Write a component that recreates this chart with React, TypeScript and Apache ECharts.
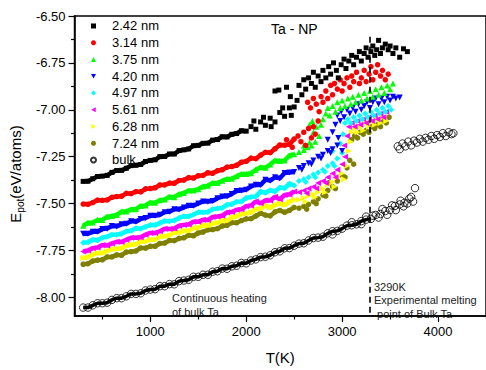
import React, { useEffect, useRef } from 'react';
import * as echarts from 'echarts';

const FONT = "'Liberation Sans', Arial, sans-serif";

// ---- axes ----
const X_MIN = 210;
const X_MAX = 4500;
const Y_MIN = -8.1;
const Y_MAX = -6.5;
const X_LABELS = [1000, 2000, 3000, 4000];
const X_MINOR = [500, 1500, 2500, 3500, 4500];
const Y_LABELS = [-8.0, -7.75, -7.5, -7.25, -7.0, -6.75, -6.5];
const Y_MINOR = [-7.875, -7.625, -7.375, -7.125, -6.875, -6.625];

// ---- legend names ----
const NAMES = ['2.42 nm', '3.14 nm', '3.75 nm', '4.20 nm', '4.97 nm', '5.61 nm', '6.28 nm', '7.24 nm', 'bulk'];

// ---- melting line ----
const MELT_T = 3290;
const MELT_TOP = -6.61;

// ---- temperatures of the dense (solid) part of nanoparticle runs ----
const T_GRID = [300, 350, 400, 450, 500, 550, 600, 650, 700, 750, 800, 850, 900, 950, 1000, 1050, 1100, 1150, 1200, 1250, 1300, 1350, 1400, 1450, 1500, 1550, 1600, 1650, 1700, 1750, 1800, 1850, 1900, 1950, 2000, 2050, 2100, 2150, 2200, 2250, 2300, 2350, 2400, 2450, 2500];

const E_242 = [-7.382, -7.381, -7.368, -7.356, -7.354, -7.350, -7.334, -7.324, -7.323, -7.312, -7.298, -7.296, -7.292, -7.276, -7.270, -7.267, -7.250, -7.249, -7.236, -7.236, -7.218, -7.214, -7.209, -7.192, -7.190, -7.179, -7.178, -7.162, -7.159, -7.144, -7.145, -7.131, -7.127, -7.112, -7.114, -7.090, -7.104, -7.065, -7.083, -7.045, -7.065, -7.015, -7.035, -6.990, -6.985];
const X_242: [number, number][] = [[2080, -7.06], [2180, -7.04], [2260, -7.09], [2300, -6.90], [2340, -6.895], [2380, -6.99], [2420, -6.88], [2460, -6.93], [2470, -7.03], [2530, -6.95], [2550, -6.87], [2580, -6.92], [2600, -6.84], [2620, -6.89], [2650, -6.83], [2680, -6.86], [2700, -6.80], [2720, -6.88], [2750, -6.82], [2780, -6.85], [2800, -6.79], [2830, -6.83], [2860, -6.77], [2880, -6.81], [2910, -6.75], [2940, -6.79], [2960, -6.83], [2990, -6.76], [3020, -6.73], [3040, -6.78], [3070, -6.74], [3100, -6.71], [3120, -6.76], [3150, -6.72], [3180, -6.69], [3200, -6.74], [3230, -6.70], [3250, -6.67], [3270, -6.72], [3300, -6.69], [3320, -6.66], [3340, -6.71], [3360, -6.68], [3380, -6.63], [3400, -6.70], [3420, -6.67], [3450, -6.65], [3480, -6.68], [3500, -6.66], [3530, -6.70], [3560, -6.67], [3600, -6.72], [3640, -6.675], [3680, -6.69]];

const E_314 = [-7.503, -7.504, -7.495, -7.482, -7.483, -7.481, -7.467, -7.463, -7.461, -7.446, -7.447, -7.437, -7.438, -7.422, -7.420, -7.416, -7.401, -7.401, -7.391, -7.392, -7.377, -7.375, -7.362, -7.364, -7.352, -7.350, -7.336, -7.339, -7.325, -7.320, -7.306, -7.303, -7.296, -7.280, -7.275, -7.258, -7.261, -7.242, -7.227, -7.229, -7.208, -7.188, -7.189, -7.185, -7.156];
const X_314: [number, number][] = [[2420, -7.16], [2480, -7.20], [2540, -7.14], [2570, -7.17], [2600, -7.12], [2620, -7.19], [2650, -7.10], [2680, -7.15], [2700, -7.09], [2720, -7.13], [2750, -7.06], [2640, -6.96], [2670, -6.99], [2700, -6.94], [2730, -6.97], [2760, -7.01], [2780, -6.93], [2800, -6.96], [2830, -6.90], [2850, -6.94], [2880, -6.87], [2900, -6.92], [2920, -6.86], [2950, -6.89], [2980, -6.84], [3000, -6.90], [3020, -6.86], [3050, -6.83], [3080, -6.88], [3100, -6.82], [3120, -6.85], [3150, -6.80], [3180, -6.86], [3200, -6.83], [3230, -6.79], [3250, -6.85], [3280, -6.81], [3300, -6.77], [3320, -6.84], [3350, -6.80], [3370, -6.76], [3400, -6.82], [3420, -6.79], [3450, -6.84], [3480, -6.81]];

const E_375 = [-7.619, -7.602, -7.601, -7.588, -7.588, -7.570, -7.566, -7.561, -7.543, -7.542, -7.531, -7.530, -7.513, -7.510, -7.495, -7.496, -7.483, -7.479, -7.464, -7.466, -7.450, -7.444, -7.431, -7.430, -7.424, -7.409, -7.405, -7.390, -7.391, -7.379, -7.369, -7.368, -7.355, -7.343, -7.342, -7.338, -7.320, -7.306, -7.309, -7.292, -7.270, -7.273, -7.271, -7.244, -7.237];
const X_375: [number, number][] = [[2550, -7.225], [2600, -7.215], [2640, -7.20], [2680, -7.19], [2720, -7.17], [2600, -7.19], [2660, -7.175], [2700, -7.12], [2730, -7.09], [2760, -7.14], [2780, -7.08], [2800, -7.05], [2660, -7.08], [2690, -7.06], [2830, -7.02], [2850, -6.99], [2870, -7.03], [2900, -6.98], [2930, -7.01], [2950, -6.96], [2980, -6.99], [3000, -6.95], [3030, -6.98], [3060, -6.94], [3090, -6.97], [3110, -6.93], [3140, -6.96], [3170, -6.92], [3200, -6.95], [3230, -6.91], [3260, -6.94], [3290, -6.90], [3320, -6.93], [3350, -6.89], [3380, -6.92], [3410, -6.88], [3440, -6.91], [3470, -6.87], [3500, -6.89], [3530, -6.86]];

const E_420 = [-7.661, -7.661, -7.651, -7.651, -7.636, -7.634, -7.620, -7.622, -7.611, -7.608, -7.594, -7.597, -7.582, -7.577, -7.565, -7.565, -7.560, -7.546, -7.544, -7.530, -7.532, -7.521, -7.512, -7.512, -7.500, -7.489, -7.490, -7.487, -7.472, -7.463, -7.461, -7.449, -7.433, -7.431, -7.426, -7.409, -7.400, -7.401, -7.373, -7.378, -7.360, -7.366, -7.337, -7.335, -7.332];
const X_420: [number, number][] = [[2550, -7.31], [2600, -7.30], [2650, -7.285], [2700, -7.27], [2750, -7.25], [2800, -7.24], [2850, -7.22], [2900, -7.21], [2580, -7.32], [2680, -7.29], [2780, -7.26], [2880, -7.23], [2950, -7.19], [3000, -7.22], [2850, -7.16], [2900, -7.12], [2930, -7.08], [2960, -7.15], [2980, -7.06], [2950, -7.03], [2990, -7.01], [3020, -7.04], [3050, -7.00], [3080, -7.02], [3110, -6.99], [3140, -7.01], [3170, -6.97], [3200, -7.00], [3230, -6.98], [3260, -6.96], [3290, -6.99], [3320, -6.96], [3350, -6.94], [3380, -6.97], [3410, -6.94], [3440, -6.96], [3470, -6.93], [3500, -6.95], [3530, -6.93], [3560, -6.94], [3600, -6.935]];

const E_497 = [-7.709, -7.706, -7.693, -7.696, -7.682, -7.677, -7.666, -7.666, -7.661, -7.648, -7.645, -7.632, -7.634, -7.624, -7.615, -7.615, -7.604, -7.593, -7.594, -7.591, -7.577, -7.568, -7.569, -7.559, -7.547, -7.547, -7.545, -7.530, -7.526, -7.524, -7.506, -7.504, -7.490, -7.489, -7.470, -7.465, -7.462, -7.436, -7.443, -7.429, -7.436, -7.414, -7.419, -7.394, -7.404];
const X_497: [number, number][] = [[2550, -7.38], [2600, -7.37], [2650, -7.36], [2700, -7.345], [2750, -7.335], [2800, -7.32], [2850, -7.30], [2900, -7.285], [2950, -7.26], [2620, -7.385], [2720, -7.36], [2820, -7.33], [2920, -7.30], [3000, -7.23], [2980, -7.18], [3010, -7.13], [2900, -7.22], [3030, -7.07], [3060, -7.05], [3090, -7.07], [3120, -7.04], [3150, -7.06], [3180, -7.03], [3210, -7.05], [3240, -7.02], [3270, -7.04], [3300, -7.01], [3330, -7.03], [3360, -7.00], [3390, -7.02], [3420, -6.99], [3450, -7.01], [3480, -6.98], [3510, -7.00]];

const E_561 = [-7.756, -7.751, -7.738, -7.735, -7.721, -7.724, -7.713, -7.704, -7.705, -7.693, -7.683, -7.683, -7.680, -7.666, -7.657, -7.657, -7.648, -7.635, -7.636, -7.633, -7.619, -7.614, -7.612, -7.597, -7.597, -7.587, -7.588, -7.572, -7.569, -7.565, -7.547, -7.545, -7.533, -7.531, -7.514, -7.510, -7.489, -7.499, -7.483, -7.484, -7.464, -7.477, -7.455, -7.452, -7.436];
const X_561: [number, number][] = [[2550, -7.44], [2600, -7.43], [2650, -7.42], [2700, -7.41], [2750, -7.39], [2800, -7.38], [2850, -7.36], [2900, -7.34], [2950, -7.32], [3000, -7.29], [2630, -7.445], [2730, -7.42], [2830, -7.39], [2930, -7.36], [3030, -7.25], [3020, -7.19], [3050, -7.14], [3070, -7.09], [3100, -7.07], [3130, -7.09], [3160, -7.06], [3190, -7.08], [3220, -7.05], [3250, -7.07], [3280, -7.04], [3310, -7.06], [3340, -7.03], [3370, -7.05], [3400, -7.02], [3430, -7.04], [3460, -7.01]];

const E_628 = [-7.790, -7.787, -7.773, -7.764, -7.764, -7.754, -7.742, -7.742, -7.739, -7.725, -7.720, -7.718, -7.702, -7.703, -7.692, -7.693, -7.677, -7.674, -7.670, -7.655, -7.655, -7.645, -7.646, -7.631, -7.629, -7.616, -7.618, -7.606, -7.604, -7.590, -7.592, -7.575, -7.569, -7.555, -7.554, -7.547, -7.529, -7.529, -7.509, -7.522, -7.509, -7.499, -7.508, -7.492, -7.479];
const X_628: [number, number][] = [[2550, -7.48], [2600, -7.47], [2650, -7.46], [2700, -7.45], [2750, -7.44], [2800, -7.42], [2850, -7.40], [2900, -7.385], [2950, -7.36], [3000, -7.34], [3050, -7.30], [2620, -7.49], [2720, -7.465], [2820, -7.44], [2920, -7.41], [3020, -7.37], [3070, -7.22], [3090, -7.17], [3100, -7.12], [3130, -7.10], [3160, -7.12], [3190, -7.09], [3220, -7.11], [3250, -7.07], [3280, -7.09], [3310, -7.06], [3340, -7.08], [3370, -7.05], [3400, -7.07], [3430, -7.04], [3460, -7.06]];

const E_724 = [-7.824, -7.821, -7.807, -7.802, -7.800, -7.785, -7.785, -7.774, -7.776, -7.759, -7.757, -7.753, -7.737, -7.738, -7.728, -7.728, -7.713, -7.711, -7.697, -7.698, -7.686, -7.683, -7.669, -7.672, -7.657, -7.652, -7.640, -7.639, -7.634, -7.620, -7.616, -7.602, -7.603, -7.591, -7.582, -7.581, -7.567, -7.552, -7.562, -7.566, -7.545, -7.537, -7.547, -7.537, -7.521];
const X_724: [number, number][] = [[2550, -7.525], [2600, -7.515], [2650, -7.505], [2700, -7.49], [2750, -7.475], [2800, -7.455], [2850, -7.43], [2900, -7.41], [2950, -7.38], [3000, -7.35], [3050, -7.31], [2630, -7.53], [2730, -7.50], [2830, -7.46], [2930, -7.42], [3030, -7.36], [2860, -7.39], [3080, -7.27], [3120, -7.29], [3100, -7.16], [3130, -7.14], [3160, -7.15], [3190, -7.12], [3220, -7.13], [3250, -7.11], [3280, -7.12], [3310, -7.09], [3340, -7.10], [3370, -7.08], [3400, -7.09], [3430, -7.06], [3460, -7.07], [3490, -7.04]];

// ---- bulk ----
const T_BULK = [300, 350, 400, 450, 500, 550, 600, 650, 700, 750, 800, 850, 900, 950, 1000, 1050, 1100, 1150, 1200, 1250, 1300, 1350, 1400, 1450, 1500, 1550, 1600, 1650, 1700, 1750, 1800, 1850, 1900, 1950, 2000, 2050, 2100, 2150, 2200, 2250, 2300, 2350, 2400, 2450, 2500, 2550, 2600, 2650, 2700, 2750, 2800, 2850, 2900, 2950, 3000, 3050, 3100, 3150, 3200, 3250, 3300, 3350, 3400, 3450, 3500, 3550, 3600, 3650, 3700];
const E_BULK = [-8.055, -8.055, -8.043, -8.032, -8.032, -8.029, -8.014, -8.005, -8.005, -7.995, -7.982, -7.982, -7.979, -7.964, -7.959, -7.957, -7.941, -7.941, -7.930, -7.931, -7.914, -7.911, -7.907, -7.891, -7.891, -7.880, -7.880, -7.864, -7.861, -7.847, -7.848, -7.835, -7.832, -7.817, -7.819, -7.804, -7.798, -7.786, -7.784, -7.776, -7.760, -7.755, -7.739, -7.738, -7.725, -7.714, -7.712, -7.697, -7.684, -7.682, -7.677, -7.659, -7.648, -7.646, -7.634, -7.618, -7.616, -7.611, -7.594, -7.586, -7.582, -7.561, -7.556, -7.540, -7.535, -7.513, -7.505, -7.496, -7.474];
const X_BULK: [number, number][] = [[2900, -7.665], [3100, -7.60], [3200, -7.61], [3250, -7.57], [3320, -7.565], [3380, -7.575], [3420, -7.53], [3470, -7.56], [3520, -7.51], [3560, -7.535], [3610, -7.485], [3640, -7.515], [3680, -7.50], [3720, -7.465], [3740, -7.49], [3760, -7.418]];
const BULK_LIQUID: [number, number][] = [[3580, -7.195], [3600, -7.21], [3630, -7.18], [3660, -7.195], [3690, -7.17], [3720, -7.19], [3750, -7.165], [3780, -7.175], [3810, -7.155], [3840, -7.17], [3870, -7.15], [3900, -7.16], [3930, -7.14], [3960, -7.155], [3990, -7.135], [4020, -7.145], [4050, -7.125], [4080, -7.14], [4110, -7.12], [4140, -7.13], [4160, -7.125]];

const pairs = (ts: number[], es: number[]) => ts.map((t, i) => [t, es[i]]);

const DOWN_TRI = 'path://M0,0L10,0L5,9Z';
const LEFT_TRI = 'path://M9,0L9,10L0,5Z';
const RIGHT_TRI = 'path://M0,0L0,10L9,5Z';

type Run = { name: string; symbol: string; color: string; e: number[]; extra: [number, number][]; bandEnd: number; size: number };

const RUNS: Run[] = [
  { name: NAMES[7], symbol: 'circle', color: '#808000', e: E_724, extra: X_724, bandEnd: 45, size: 5.5 },
  { name: NAMES[6], symbol: RIGHT_TRI, color: '#ffff00', e: E_628, extra: X_628, bandEnd: 45, size: 6 },
  { name: NAMES[5], symbol: LEFT_TRI, color: '#ff00ff', e: E_561, extra: X_561, bandEnd: 45, size: 6 },
  { name: NAMES[4], symbol: 'diamond', color: '#00ffff', e: E_497, extra: X_497, bandEnd: 45, size: 6 },
  { name: NAMES[3], symbol: DOWN_TRI, color: '#0000ff', e: E_420, extra: X_420, bandEnd: 45, size: 6 },
  { name: NAMES[2], symbol: 'triangle', color: '#00ff00', e: E_375, extra: X_375, bandEnd: 45, size: 6 },
  { name: NAMES[1], symbol: 'circle', color: '#ff0000', e: E_314, extra: X_314, bandEnd: 45, size: 5.5 },
  { name: NAMES[0], symbol: 'rect', color: '#000000', e: E_242, extra: X_242, bandEnd: 35, size: 5 },
];

const BULK_BAND_END = 61;

export default function App() {
  const ref = useRef<HTMLDivElement>(null);
  useEffect(() => {
    const chart = echarts.init(ref.current!, null, { renderer: 'svg' });
    const axisText = { fontSize: 13, fontFamily: FONT, color: '#000' };

    const npSeries: any[] = [];
    RUNS.forEach((r, k) => {
      const dense = pairs(T_GRID, r.e);
      npSeries.push({
        type: 'line',
        name: r.name + ' band',
        data: dense.slice(0, r.bandEnd),
        showSymbol: false,
        symbol: 'none',
        lineStyle: { color: r.color, width: 4.5 },
        z: 3 + k * 0.1,
        silent: true,
      });
      npSeries.push({
        type: 'scatter',
        name: r.name,
        symbol: r.symbol,
        symbolSize: r.size,
        itemStyle: { color: r.color, opacity: 1 },
        data: [...dense, ...r.extra],
        z: 3 + k * 0.1,
      });
    });

    const bulkPts = pairs(T_BULK, E_BULK);

    const option: any = {
      animation: false,
      backgroundColor: '#fff',
      title: {
        text: 'Ta - NP',
        left: 271,
        top: 22,
        padding: 0,
        textStyle: { fontSize: 14, fontWeight: 'normal', fontFamily: FONT, color: '#000' },
      },
      grid: { left: 72, right: -5, top: 16, bottom: 47, show: true, borderColor: '#000', borderWidth: 1.5, containLabel: false },
      legend: {
        orient: 'vertical',
        left: 90,
        top: 17.6,
        padding: 0,
        itemGap: 0,
        itemWidth: 5,
        itemHeight: 5,
        data: NAMES,
        textStyle: { fontSize: 13, fontFamily: FONT, color: '#000', lineHeight: 16.75, padding: [0, 0, 0, 11] },
      },
      xAxis: [
        {
          type: 'value', min: X_MIN, max: X_MAX, position: 'bottom',
          name: 'T(K)', nameLocation: 'middle', nameGap: 34,
          nameTextStyle: { fontSize: 15, fontFamily: FONT, color: '#000' },
          axisLine: { show: true, lineStyle: { color: '#000', width: 1.5 } },
          axisTick: { show: true, length: 6, customValues: X_LABELS, lineStyle: { color: '#000', width: 1.2 } },
          axisLabel: { ...axisText, margin: 9, customValues: X_LABELS, formatter: (v: number) => String(v) },
          splitLine: { show: false },
        },
        {
          type: 'value', min: X_MIN, max: X_MAX, position: 'bottom',
          axisLine: { show: false },
          axisTick: { show: true, length: 3.5, customValues: X_MINOR, lineStyle: { color: '#000', width: 1.2 } },
          axisLabel: { show: false },
          splitLine: { show: false },
        },
      ],
      yAxis: [
        {
          type: 'value', min: Y_MIN, max: Y_MAX, position: 'left',
          name: '{a|E}{b|pot}{a|(eV/atoms)}', nameLocation: 'middle', nameGap: 43, nameRotate: 90,
          nameTextStyle: {
            padding: [0, 16, 0, 0],
            rich: {
              a: { fontSize: 15, fontFamily: FONT, color: '#000' },
              b: { fontSize: 10, fontFamily: FONT, color: '#000', padding: [9, 0, 0, 0] },
            },
          },
          axisLine: { show: true, lineStyle: { color: '#000', width: 1.5 } },
          axisTick: { show: true, length: 6, customValues: Y_LABELS, lineStyle: { color: '#000', width: 1.2 } },
          axisLabel: { ...axisText, margin: 9, customValues: Y_LABELS, formatter: (v: number) => v.toFixed(2) },
          splitLine: { show: false },
        },
        {
          type: 'value', min: Y_MIN, max: Y_MAX, position: 'left',
          axisLine: { show: false },
          axisTick: { show: true, length: 3.5, customValues: Y_MINOR, lineStyle: { color: '#000', width: 1.2 } },
          axisLabel: { show: false },
          splitLine: { show: false },
        },
      ],
      series: [
        {
          type: 'line',
          name: 'bulk band',
          data: bulkPts.slice(0, BULK_BAND_END),
          showSymbol: false,
          symbol: 'none',
          lineStyle: { color: '#000', width: 3.5 },
          z: 2,
          silent: true,
        },
        {
          type: 'scatter',
          name: NAMES[8],
          symbol: 'circle',
          symbolSize: 7.5,
          itemStyle: { color: 'rgba(255,255,255,0)', borderColor: '#000', borderWidth: 1 },
          data: [...bulkPts, ...X_BULK, ...BULK_LIQUID],
          markLine: {
            silent: true,
            symbol: ['none', 'none'],
            label: { show: false },
            lineStyle: { color: '#000', width: 1.6, type: [6, 4] },
            data: [[{ coord: [MELT_T, MELT_TOP] }, { coord: [MELT_T, Y_MIN] }]],
          },
          z: 2,
        },
        ...npSeries,
      ],
      graphic: [
        {
          type: 'text', left: 172, top: 291,
          style: { text: 'Continuous heating\nof bulk Ta', fontSize: 11, fontFamily: FONT, fill: '#222', lineHeight: 14 },
        },
        {
          type: 'text', left: 374, top: 280,
          style: { text: '3290K\nExperimental melting\n point of Bulk Ta', fontSize: 11, fontFamily: FONT, fill: '#222', lineHeight: 13.5 },
        },
      ],
    };
    chart.setOption(option);
    return () => chart.dispose();
  }, []);
  return <div ref={ref} style={{ position: 'fixed', left: 0, top: 0, width: 486, height: 370 }} />;
}
